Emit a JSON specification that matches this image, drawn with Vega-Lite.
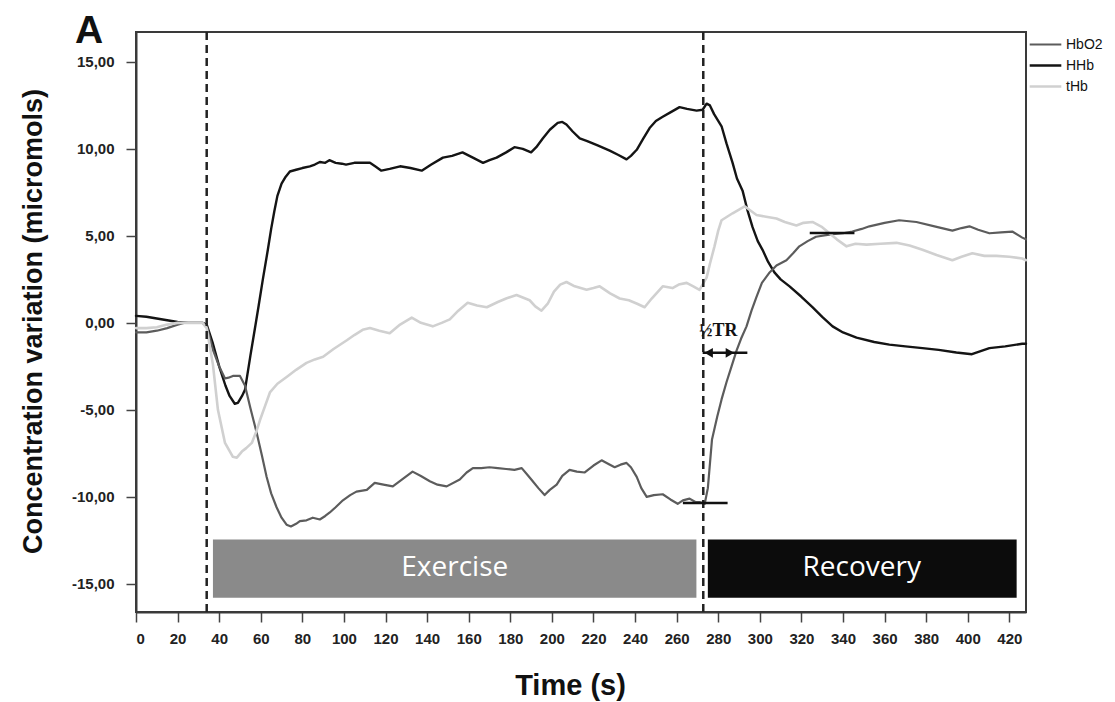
{
 "$schema": "https://vega.github.io/schema/vega-lite/v6.json",
 "width": 890, "height": 580,
 "autosize": {"type": "none"},
 "padding": {"left": 136, "top": 32, "right": 89, "bottom": 90},
 "background": "white",
 "config": {"view": {"stroke": "#3a3a3a", "strokeWidth": 2}, "font": "Liberation Sans"},
 "datasets": {
  "panel": [{"label": "A", "t": -22.6, "v": 16.09}],
  "phases": [
   {"phase": "Exercise", "t": 37, "t2": 269.5, "v": -12.45, "v2": -15.8, "tc": 153.3, "vc": -14.1},
   {"phase": "Recovery", "t": 275, "t2": 423.5, "v": -12.45, "v2": -15.8, "tc": 349, "vc": -14.1}
  ],
  "marks": [{"t": 34}, {"t": 272.8}],
  "levels": [
   {"t": 263, "t2": 284.5, "v": -10.35},
   {"t": 324, "t2": 345.5, "v": 5.17},
   {"t": 272.5, "t2": 294, "v": -1.72}
  ],
  "heads": [
   {"dir": "left", "t": 275.4, "v": -1.72},
   {"dir": "right", "t": 285.6, "v": -1.72}
  ],
  "notes": [{"label": "½TR", "t": 270.8, "v": -0.45}],
  "nirs": [
   {"s":"HHb","t":0,"v":0.4},{"s":"HHb","t":5,"v":0.35},{"s":"HHb","t":10,"v":0.25},{"s":"HHb","t":15,"v":0.15},{"s":"HHb","t":20,"v":0.05},{"s":"HHb","t":25,"v":0.0},{"s":"HHb","t":32,"v":0.0},{"s":"HHb","t":34,"v":-0.1},{"s":"HHb","t":37,"v":-1.2},{"s":"HHb","t":40,"v":-2.5},{"s":"HHb","t":43,"v":-3.6},{"s":"HHb","t":45,"v":-4.2},{"s":"HHb","t":47.5,"v":-4.65},{"s":"HHb","t":49,"v":-4.6},{"s":"HHb","t":51,"v":-4.2},{"s":"HHb","t":52.4,"v":-3.85},{"s":"HHb","t":55,"v":-1.9},{"s":"HHb","t":57,"v":-0.45},{"s":"HHb","t":59,"v":1.0},{"s":"HHb","t":61,"v":2.5},{"s":"HHb","t":63.4,"v":4.2},{"s":"HHb","t":65,"v":5.4},{"s":"HHb","t":66.5,"v":6.4},{"s":"HHb","t":68,"v":7.3},{"s":"HHb","t":70,"v":8.0},{"s":"HHb","t":72,"v":8.4},{"s":"HHb","t":74,"v":8.7},{"s":"HHb","t":77,"v":8.8},{"s":"HHb","t":80,"v":8.9},{"s":"HHb","t":83.6,"v":9.0},{"s":"HHb","t":86,"v":9.1},{"s":"HHb","t":88.4,"v":9.25},{"s":"HHb","t":91,"v":9.2},{"s":"HHb","t":93,"v":9.35},{"s":"HHb","t":96,"v":9.2},{"s":"HHb","t":99,"v":9.15},{"s":"HHb","t":101,"v":9.1},{"s":"HHb","t":105,"v":9.2},{"s":"HHb","t":109,"v":9.2},{"s":"HHb","t":112.5,"v":9.2},{"s":"HHb","t":115,"v":9.0},{"s":"HHb","t":118,"v":8.75},{"s":"HHb","t":122,"v":8.85},{"s":"HHb","t":127,"v":9.0},{"s":"HHb","t":132,"v":8.9},{"s":"HHb","t":137.4,"v":8.75},{"s":"HHb","t":142,"v":9.1},{"s":"HHb","t":147.6,"v":9.5},{"s":"HHb","t":152,"v":9.6},{"s":"HHb","t":157,"v":9.8},{"s":"HHb","t":162,"v":9.5},{"s":"HHb","t":166.9,"v":9.2},{"s":"HHb","t":170,"v":9.35},{"s":"HHb","t":173.4,"v":9.5},{"s":"HHb","t":178,"v":9.8},{"s":"HHb","t":182,"v":10.1},{"s":"HHb","t":186,"v":10.0},{"s":"HHb","t":190,"v":9.8},{"s":"HHb","t":192.5,"v":10.1},{"s":"HHb","t":195.6,"v":10.6},{"s":"HHb","t":199,"v":11.1},{"s":"HHb","t":202.8,"v":11.5},{"s":"HHb","t":205,"v":11.55},{"s":"HHb","t":207,"v":11.4},{"s":"HHb","t":210,"v":11.0},{"s":"HHb","t":213.4,"v":10.6},{"s":"HHb","t":217,"v":10.45},{"s":"HHb","t":222,"v":10.2},{"s":"HHb","t":227.8,"v":9.9},{"s":"HHb","t":232,"v":9.65},{"s":"HHb","t":235.9,"v":9.4},{"s":"HHb","t":238,"v":9.6},{"s":"HHb","t":240.8,"v":9.95},{"s":"HHb","t":244,"v":10.6},{"s":"HHb","t":247,"v":11.2},{"s":"HHb","t":250,"v":11.6},{"s":"HHb","t":253.3,"v":11.85},{"s":"HHb","t":257,"v":12.1},{"s":"HHb","t":261.4,"v":12.4},{"s":"HHb","t":265,"v":12.3},{"s":"HHb","t":269.6,"v":12.2},{"s":"HHb","t":272.5,"v":12.25},{"s":"HHb","t":274.4,"v":12.6},{"s":"HHb","t":276,"v":12.5},{"s":"HHb","t":278,"v":12.0},{"s":"HHb","t":281.6,"v":11.3},{"s":"HHb","t":284,"v":10.3},{"s":"HHb","t":286.9,"v":9.2},{"s":"HHb","t":289,"v":8.3},{"s":"HHb","t":291.7,"v":7.6},{"s":"HHb","t":294,"v":6.5},{"s":"HHb","t":296.5,"v":5.5},{"s":"HHb","t":299,"v":4.7},{"s":"HHb","t":301.3,"v":4.2},{"s":"HHb","t":304,"v":3.5},{"s":"HHb","t":307,"v":2.9},{"s":"HHb","t":310,"v":2.5},{"s":"HHb","t":314.3,"v":2.1},{"s":"HHb","t":320,"v":1.5},{"s":"HHb","t":325.3,"v":0.9},{"s":"HHb","t":330,"v":0.35},{"s":"HHb","t":335,"v":-0.2},{"s":"HHb","t":340,"v":-0.55},{"s":"HHb","t":346.5,"v":-0.85},{"s":"HHb","t":355,"v":-1.1},{"s":"HHb","t":362.3,"v":-1.25},{"s":"HHb","t":370,"v":-1.35},{"s":"HHb","t":378.2,"v":-1.45},{"s":"HHb","t":386,"v":-1.55},{"s":"HHb","t":394.5,"v":-1.7},{"s":"HHb","t":402,"v":-1.8},{"s":"HHb","t":410.4,"v":-1.45},{"s":"HHb","t":418,"v":-1.35},{"s":"HHb","t":426.2,"v":-1.2},{"s":"HHb","t":428,"v":-1.2},
   {"s":"HbO2","t":0,"v":-0.55},{"s":"HbO2","t":5,"v":-0.55},{"s":"HbO2","t":10,"v":-0.45},{"s":"HbO2","t":15,"v":-0.3},{"s":"HbO2","t":20,"v":-0.1},{"s":"HbO2","t":23,"v":0.0},{"s":"HbO2","t":32,"v":0.0},{"s":"HbO2","t":34,"v":-0.2},{"s":"HbO2","t":37,"v":-1.55},{"s":"HbO2","t":40,"v":-2.5},{"s":"HbO2","t":42.8,"v":-3.2},{"s":"HbO2","t":44.5,"v":-3.15},{"s":"HbO2","t":46.6,"v":-3.05},{"s":"HbO2","t":50,"v":-3.05},{"s":"HbO2","t":52.4,"v":-3.6},{"s":"HbO2","t":55,"v":-4.9},{"s":"HbO2","t":58,"v":-6.3},{"s":"HbO2","t":60.5,"v":-7.6},{"s":"HbO2","t":62.8,"v":-8.85},{"s":"HbO2","t":65,"v":-9.8},{"s":"HbO2","t":67.6,"v":-10.6},{"s":"HbO2","t":70,"v":-11.2},{"s":"HbO2","t":72.4,"v":-11.6},{"s":"HbO2","t":74.5,"v":-11.7},{"s":"HbO2","t":77,"v":-11.55},{"s":"HbO2","t":78.8,"v":-11.4},{"s":"HbO2","t":82,"v":-11.35},{"s":"HbO2","t":85,"v":-11.2},{"s":"HbO2","t":88.4,"v":-11.3},{"s":"HbO2","t":91,"v":-11.1},{"s":"HbO2","t":93.2,"v":-10.9},{"s":"HbO2","t":96,"v":-10.6},{"s":"HbO2","t":99.5,"v":-10.2},{"s":"HbO2","t":103,"v":-9.9},{"s":"HbO2","t":106,"v":-9.7},{"s":"HbO2","t":111,"v":-9.6},{"s":"HbO2","t":114.8,"v":-9.2},{"s":"HbO2","t":119,"v":-9.3},{"s":"HbO2","t":123.5,"v":-9.4},{"s":"HbO2","t":128,"v":-9.0},{"s":"HbO2","t":133,"v":-8.55},{"s":"HbO2","t":137,"v":-8.8},{"s":"HbO2","t":141.3,"v":-9.1},{"s":"HbO2","t":145,"v":-9.3},{"s":"HbO2","t":149.4,"v":-9.4},{"s":"HbO2","t":155.7,"v":-9.0},{"s":"HbO2","t":159,"v":-8.6},{"s":"HbO2","t":162,"v":-8.35},{"s":"HbO2","t":166,"v":-8.35},{"s":"HbO2","t":170,"v":-8.3},{"s":"HbO2","t":174,"v":-8.35},{"s":"HbO2","t":178,"v":-8.4},{"s":"HbO2","t":182,"v":-8.45},{"s":"HbO2","t":185.5,"v":-8.35},{"s":"HbO2","t":188,"v":-8.7},{"s":"HbO2","t":190.8,"v":-9.1},{"s":"HbO2","t":193.5,"v":-9.5},{"s":"HbO2","t":196.5,"v":-9.9},{"s":"HbO2","t":199,"v":-9.6},{"s":"HbO2","t":202.3,"v":-9.3},{"s":"HbO2","t":205,"v":-8.8},{"s":"HbO2","t":208.5,"v":-8.45},{"s":"HbO2","t":212,"v":-8.55},{"s":"HbO2","t":215.8,"v":-8.6},{"s":"HbO2","t":220,"v":-8.2},{"s":"HbO2","t":223.9,"v":-7.9},{"s":"HbO2","t":227,"v":-8.1},{"s":"HbO2","t":230.2,"v":-8.3},{"s":"HbO2","t":233,"v":-8.15},{"s":"HbO2","t":235.9,"v":-8.05},{"s":"HbO2","t":238,"v":-8.3},{"s":"HbO2","t":240.8,"v":-8.85},{"s":"HbO2","t":243,"v":-9.5},{"s":"HbO2","t":245.6,"v":-10.0},{"s":"HbO2","t":249,"v":-9.9},{"s":"HbO2","t":253.3,"v":-9.85},{"s":"HbO2","t":257,"v":-10.15},{"s":"HbO2","t":260.5,"v":-10.4},{"s":"HbO2","t":263,"v":-10.2},{"s":"HbO2","t":266.2,"v":-10.1},{"s":"HbO2","t":269,"v":-10.3},{"s":"HbO2","t":271,"v":-10.3},{"s":"HbO2","t":273.5,"v":-10.4},{"s":"HbO2","t":275,"v":-9.5},{"s":"HbO2","t":277,"v":-6.7},{"s":"HbO2","t":279.5,"v":-5.4},{"s":"HbO2","t":281.6,"v":-4.4},{"s":"HbO2","t":284,"v":-3.4},{"s":"HbO2","t":286.4,"v":-2.5},{"s":"HbO2","t":288.8,"v":-1.6},{"s":"HbO2","t":291,"v":-0.9},{"s":"HbO2","t":293.6,"v":-0.2},{"s":"HbO2","t":296,"v":0.7},{"s":"HbO2","t":298.4,"v":1.5},{"s":"HbO2","t":301,"v":2.3},{"s":"HbO2","t":304.7,"v":2.9},{"s":"HbO2","t":308,"v":3.3},{"s":"HbO2","t":312.8,"v":3.6},{"s":"HbO2","t":316,"v":4.0},{"s":"HbO2","t":319,"v":4.4},{"s":"HbO2","t":323,"v":4.7},{"s":"HbO2","t":327,"v":4.95},{"s":"HbO2","t":335,"v":5.1},{"s":"HbO2","t":340,"v":5.15},{"s":"HbO2","t":344.5,"v":5.25},{"s":"HbO2","t":349,"v":5.4},{"s":"HbO2","t":352.7,"v":5.55},{"s":"HbO2","t":360,"v":5.75},{"s":"HbO2","t":367,"v":5.9},{"s":"HbO2","t":375.3,"v":5.8},{"s":"HbO2","t":384,"v":5.55},{"s":"HbO2","t":392.6,"v":5.3},{"s":"HbO2","t":397,"v":5.45},{"s":"HbO2","t":400.8,"v":5.55},{"s":"HbO2","t":405,"v":5.35},{"s":"HbO2","t":410.4,"v":5.15},{"s":"HbO2","t":416,"v":5.2},{"s":"HbO2","t":421.4,"v":5.25},{"s":"HbO2","t":426.2,"v":4.9},{"s":"HbO2","t":428,"v":4.8},
   {"s":"tHb","t":0,"v":-0.3},{"s":"tHb","t":5,"v":-0.3},{"s":"tHb","t":10,"v":-0.25},{"s":"tHb","t":15,"v":-0.1},{"s":"tHb","t":20,"v":0.0},{"s":"tHb","t":32,"v":0.0},{"s":"tHb","t":34,"v":-0.3},{"s":"tHb","t":37,"v":-2.4},{"s":"tHb","t":39.4,"v":-5.0},{"s":"tHb","t":42.8,"v":-6.9},{"s":"tHb","t":46.6,"v":-7.7},{"s":"tHb","t":48.5,"v":-7.75},{"s":"tHb","t":50.9,"v":-7.4},{"s":"tHb","t":53,"v":-7.2},{"s":"tHb","t":55.7,"v":-6.9},{"s":"tHb","t":58,"v":-6.2},{"s":"tHb","t":59.6,"v":-5.6},{"s":"tHb","t":62,"v":-4.8},{"s":"tHb","t":64.4,"v":-4.0},{"s":"tHb","t":68,"v":-3.5},{"s":"tHb","t":72.6,"v":-3.1},{"s":"tHb","t":77,"v":-2.7},{"s":"tHb","t":82,"v":-2.3},{"s":"tHb","t":86,"v":-2.1},{"s":"tHb","t":90,"v":-1.95},{"s":"tHb","t":95,"v":-1.5},{"s":"tHb","t":101.4,"v":-1.0},{"s":"tHb","t":105,"v":-0.7},{"s":"tHb","t":109,"v":-0.4},{"s":"tHb","t":112.5,"v":-0.3},{"s":"tHb","t":117,"v":-0.45},{"s":"tHb","t":122,"v":-0.6},{"s":"tHb","t":127,"v":-0.1},{"s":"tHb","t":132.6,"v":0.3},{"s":"tHb","t":137,"v":0.0},{"s":"tHb","t":142.7,"v":-0.2},{"s":"tHb","t":147,"v":0.0},{"s":"tHb","t":150.9,"v":0.2},{"s":"tHb","t":155,"v":0.7},{"s":"tHb","t":159.5,"v":1.15},{"s":"tHb","t":164,"v":1.0},{"s":"tHb","t":168.7,"v":0.9},{"s":"tHb","t":174,"v":1.2},{"s":"tHb","t":178,"v":1.4},{"s":"tHb","t":183,"v":1.6},{"s":"tHb","t":189.3,"v":1.3},{"s":"tHb","t":192,"v":0.95},{"s":"tHb","t":195,"v":0.7},{"s":"tHb","t":198,"v":1.1},{"s":"tHb","t":201,"v":1.8},{"s":"tHb","t":204,"v":2.2},{"s":"tHb","t":207,"v":2.35},{"s":"tHb","t":211,"v":2.1},{"s":"tHb","t":216.7,"v":1.9},{"s":"tHb","t":220,"v":2.0},{"s":"tHb","t":223,"v":2.1},{"s":"tHb","t":228,"v":1.7},{"s":"tHb","t":232.6,"v":1.4},{"s":"tHb","t":237,"v":1.3},{"s":"tHb","t":241,"v":1.1},{"s":"tHb","t":244.6,"v":0.9},{"s":"tHb","t":248,"v":1.4},{"s":"tHb","t":253.3,"v":2.1},{"s":"tHb","t":258,"v":2.0},{"s":"tHb","t":261,"v":2.2},{"s":"tHb","t":264.8,"v":2.3},{"s":"tHb","t":268,"v":2.1},{"s":"tHb","t":271,"v":1.9},{"s":"tHb","t":274.4,"v":2.6},{"s":"tHb","t":276,"v":3.4},{"s":"tHb","t":278.2,"v":4.4},{"s":"tHb","t":280,"v":5.3},{"s":"tHb","t":281.6,"v":5.9},{"s":"tHb","t":286.9,"v":6.3},{"s":"tHb","t":292.7,"v":6.7},{"s":"tHb","t":298.4,"v":6.2},{"s":"tHb","t":303,"v":6.1},{"s":"tHb","t":308,"v":6.0},{"s":"tHb","t":312,"v":5.8},{"s":"tHb","t":317.6,"v":5.6},{"s":"tHb","t":321,"v":5.75},{"s":"tHb","t":325.3,"v":5.8},{"s":"tHb","t":330,"v":5.5},{"s":"tHb","t":333.5,"v":5.15},{"s":"tHb","t":337,"v":4.8},{"s":"tHb","t":341.7,"v":4.4},{"s":"tHb","t":346,"v":4.55},{"s":"tHb","t":351.3,"v":4.5},{"s":"tHb","t":358,"v":4.55},{"s":"tHb","t":365.7,"v":4.6},{"s":"tHb","t":372,"v":4.45},{"s":"tHb","t":378.2,"v":4.2},{"s":"tHb","t":385,"v":3.9},{"s":"tHb","t":392.6,"v":3.6},{"s":"tHb","t":397,"v":3.8},{"s":"tHb","t":402.2,"v":4.0},{"s":"tHb","t":408,"v":3.85},{"s":"tHb","t":413.7,"v":3.85},{"s":"tHb","t":420,"v":3.8},{"s":"tHb","t":426.2,"v":3.7},{"s":"tHb","t":428,"v":3.6}
  ]
 },
 "layer": [
  {
   "data": {"name": "nirs"},
   "mark": {"type": "line", "strokeJoin": "round", "strokeCap": "round"},
   "encoding": {
    "x": {"field": "t", "type": "quantitative",
          "scale": {"domain": [0, 428], "nice": false, "zero": false},
          "axis": {"title": "Time (s)", "values": [0,20,40,60,80,100,120,140,160,180,200,220,240,260,280,300,320,340,360,380,400,420],
                   "grid": false, "tickSize": 10, "tickColor": "#444", "tickWidth": 1.5, "domainColor": "#3a3a3a", "domainWidth": 2,
                   "labelFontSize": 15, "labelFontWeight": "bold", "labelColor": "#222", "labelPadding": 9, "labelFont": "Liberation Sans",
                   "titleFontSize": 29, "titleFontWeight": "bold", "titleColor": "#111", "titleFont": "Liberation Sans",
                   "titleX": 434, "titleY": 82, "titleBaseline": "alphabetic", "titleAnchor": "middle", "titleAlign": "center"}},
    "y": {"field": "v", "type": "quantitative",
          "scale": {"domain": [-16.62, 16.72], "nice": false, "zero": false},
          "axis": {"title": "Concentration variation (micromols)", "values": [-15,-10,-5,0,5,10,15],
                   "labelExpr": "replace(replace(format(datum.value, '.2f'), '.', ','), '\u2212', '-')",
                   "grid": false, "tickSize": 10, "tickColor": "#444", "tickWidth": 1.5, "domainColor": "#3a3a3a", "domainWidth": 2,
                   "labelFontSize": 15, "labelFontWeight": "bold", "labelColor": "#222", "labelPadding": 12, "labelFont": "Liberation Sans",
                   "titleFontSize": 27, "titleFontWeight": "bold", "titleColor": "#111", "titleFont": "Liberation Sans",
                   "titleX": -95, "titleY": 289, "titleAngle": -90, "titleBaseline": "alphabetic", "titleAlign": "center"}},
    "color": {"field": "s", "type": "nominal",
              "scale": {"domain": ["HbO2", "HHb", "tHb"], "range": ["#5c5c5c", "#141414", "#d0d0d0"]},
              "legend": {"orient": "none", "legendX": 892, "legendY": 3, "title": null, "symbolType": "stroke", "symbolSize": 1000,
                         "symbolStrokeWidth": 2, "clipHeight": 19, "rowPadding": 2, "padding": 0, "labelOffset": 3,
                         "labelFontSize": 14, "labelColor": "#111", "labelFont": "Liberation Sans"}},
    "strokeWidth": {"field": "s", "type": "nominal", "scale": {"domain": ["HbO2", "HHb", "tHb"], "range": [2.2, 2.6, 2.2]}, "legend": null},
    "order": {"field": "t", "type": "quantitative"}
   }
  },
  {
   "data": {"name": "phases"},
   "mark": {"type": "rect"},
   "encoding": {
    "x": {"field": "t", "type": "quantitative"}, "x2": {"field": "t2"},
    "y": {"field": "v", "type": "quantitative"}, "y2": {"field": "v2"},
    "fill": {"field": "phase", "type": "nominal", "scale": {"domain": ["Exercise", "Recovery"], "range": ["#8a8a8a", "#0c0c0c"]}, "legend": null}
   }
  },
  {
   "data": {"name": "phases"},
   "mark": {"type": "text", "color": "white", "fontSize": 28, "font": "Open Sans", "align": "center", "baseline": "middle"},
   "encoding": {
    "x": {"field": "tc", "type": "quantitative"},
    "y": {"field": "vc", "type": "quantitative"},
    "text": {"field": "phase"}
   }
  },
  {
   "data": {"name": "marks"},
   "mark": {"type": "rule", "color": "#222", "strokeWidth": 2.5, "strokeDash": [8, 5]},
   "encoding": {"x": {"field": "t", "type": "quantitative"}}
  },
  {
   "data": {"name": "levels"},
   "mark": {"type": "rule", "color": "#111", "strokeWidth": 2.5},
   "encoding": {
    "x": {"field": "t", "type": "quantitative"}, "x2": {"field": "t2"},
    "y": {"field": "v", "type": "quantitative"}
   }
  },
  {
   "data": {"name": "heads"},
   "mark": {"type": "point", "filled": true, "color": "#111", "size": 95, "opacity": 1},
   "encoding": {
    "x": {"field": "t", "type": "quantitative"},
    "y": {"field": "v", "type": "quantitative"},
    "shape": {"field": "dir", "type": "nominal", "scale": {"domain": ["left", "right"], "range": ["triangle-left", "triangle-right"]}, "legend": null}
   }
  },
  {
   "data": {"name": "notes"},
   "mark": {"type": "text", "font": "Liberation Serif", "fontWeight": "bold", "fontSize": 18, "color": "#111", "align": "left", "baseline": "middle"},
   "encoding": {
    "x": {"field": "t", "type": "quantitative"},
    "y": {"field": "v", "type": "quantitative"},
    "text": {"field": "label"}
   }
  },
  {
   "data": {"name": "panel"},
   "mark": {"type": "text", "font": "Liberation Sans", "fontWeight": "bold", "fontSize": 39, "color": "#111", "align": "center", "baseline": "alphabetic"},
   "encoding": {
    "x": {"field": "t", "type": "quantitative"},
    "y": {"field": "v", "type": "quantitative"},
    "text": {"field": "label"}
   }
  }
 ]
}
